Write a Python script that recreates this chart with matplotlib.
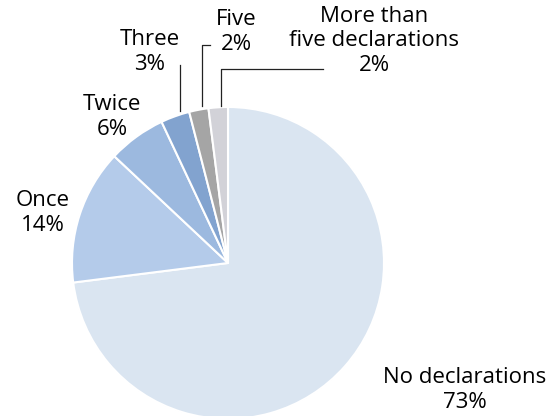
import matplotlib.pyplot as plt

labels = ["No declarations", "Once", "Twice", "Three", "Five", "More than\nfive declarations"]
shares = [73, 14, 6, 3, 2, 2]
colors = ["#dae5f1", "#b4cbea", "#9cb9df", "#82a3cf", "#a5a5a5", "#d2d2d8"]

H = 416
plt.rcParams['font.family'] = ['Open Sans', 'DejaVu Sans']

fig = plt.figure(figsize=(5.5, 4.16), dpi=100)
ax = fig.add_axes([0, 0, 1, 1])

ax.pie(shares, colors=colors, startangle=90, counterclock=False,
       center=(228, H - 263), radius=156, frame=True,
       wedgeprops=dict(edgecolor='white', linewidth=1.5))
ax.set_xlim(0, 550)
ax.set_ylim(0, H)
ax.set_aspect('equal')
ax.axis('off')

# label centres in pixel coords (x, y from top)
pos = [(465, 390), (43, 213), (112, 117), (150, 52), (236, 32), (374, 41)]
fs = 16
for lab, val, (x, y) in zip(labels, shares, pos):
    ax.text(x, H - y, f"{lab}\n{val}%", ha='center', va='center',
            fontsize=fs, linespacing=1.2, color='black')

# leader lines
lc = dict(color='#222222', lw=0.9)
ax.plot([179.5, 179.5], [H - 65, H - 111], **lc)
ax.plot([210, 202, 202], [H - 45, H - 45, H - 106], **lc)
ax.plot([323, 221, 221], [H - 69, H - 69, H - 106], **lc)

fig.savefig("out.png", dpi=100)
